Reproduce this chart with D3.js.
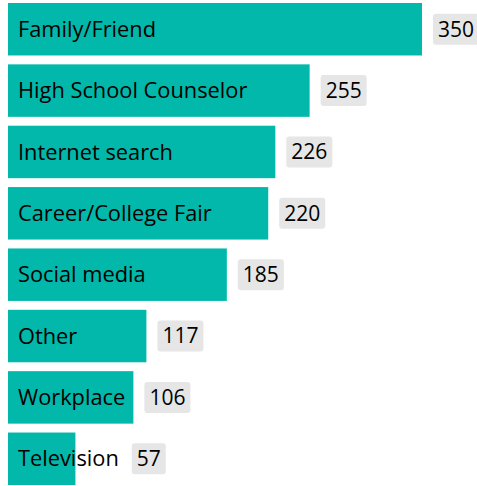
<!DOCTYPE html>
<html><head><meta charset="utf-8">
<script src="https://cdn.jsdelivr.net/npm/d3@7/dist/d3.min.js"></script>
<style>body{margin:0;background:#fff;}svg{display:block;}</style>
</head><body><svg id="c" width="477" height="486"></svg>
<script>
const categories = ["Family/Friend","High School Counselor","Internet search","Career/College Fair","Social media","Other","Workplace","Television"];
const values = [350,255,226,220,185,117,106,57];

const svg = d3.select("#c");
const font = "'Open Sans', 'Noto Sans', sans-serif";
const fsCat = 21.8, fsVal = 21;
const x = d3.scaleLinear().domain([0,350]).range([8,422]);
const y = d3.scaleBand().domain(categories).range([3,485]).paddingInner(0.145).paddingOuter(0);

const g = svg.selectAll("g.row").data(categories.map((c,i)=>({c,v:values[i]}))).join("g").attr("class","row");
g.append("rect").attr("x",x(0)).attr("y",d=>y(d.c)).attr("width",d=>x(d.v)-x(0)).attr("height",y.bandwidth()).attr("fill","#01B8AA");
g.each(function(d){
  const gg=d3.select(this);
  const cy=y(d.c)+y.bandwidth()/2;
  const ct=gg.append("text").attr("x",x(0)+10).attr("y",cy).attr("dy","0.35em")
    .attr("font-family",font).attr("font-size",fsCat).attr("fill","#000").text(d.c);
  const textEnd = x(0)+10+ct.node().getComputedTextLength();
  const bx = Math.max(x(d.v)+11, textEnd+13);
  const bg=gg.append("rect").attr("x",bx).attr("y",cy-15.5).attr("height",31).attr("rx",3).attr("fill","#e6e6e6");
  const t=gg.append("text").attr("x",bx+5).attr("y",cy).attr("dy","0.35em").attr("font-family",font).attr("font-size",fsVal).attr("fill","#000").text(d.v);
  bg.attr("width",t.node().getComputedTextLength()+10);
});
</script></body></html>
